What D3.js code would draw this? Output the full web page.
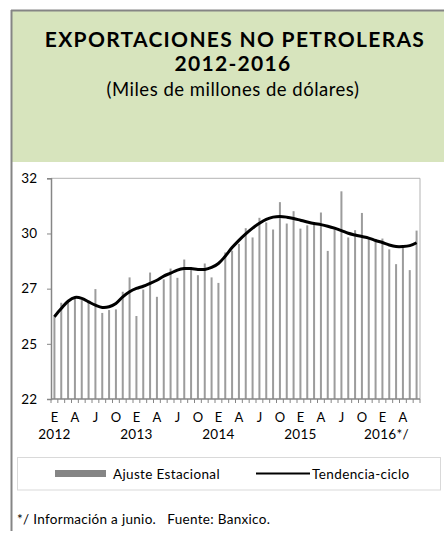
<!DOCTYPE html>
<html>
<head>
<meta charset="utf-8">
<script src="https://cdn.jsdelivr.net/npm/d3@7/dist/d3.min.js"></script>
<style>
  body { margin: 0; background: #fff; }
  svg { display: block; font-family: Lato, "Open Sans", sans-serif; }
</style>
</head>
<body>
<svg id="chart" width="444" height="533"></svg>
<script>
// monthly categories, Jan 2012 - Jun 2016
const categories = [
  "2012-01","2012-02","2012-03","2012-04","2012-05","2012-06","2012-07","2012-08","2012-09","2012-10","2012-11","2012-12",
  "2013-01","2013-02","2013-03","2013-04","2013-05","2013-06","2013-07","2013-08","2013-09","2013-10","2013-11","2013-12",
  "2014-01","2014-02","2014-03","2014-04","2014-05","2014-06","2014-07","2014-08","2014-09","2014-10","2014-11","2014-12",
  "2015-01","2015-02","2015-03","2015-04","2015-05","2015-06","2015-07","2015-08","2015-09","2015-10","2015-11","2015-12",
  "2016-01","2016-02","2016-03","2016-04","2016-05","2016-06"
];
// Ajuste Estacional (bars)
const ajusteEstacional = [
  25.76,26.36,26.48,26.60,26.48,26.45,26.98,25.90,26.03,26.06,26.86,27.51,
  25.76,26.96,27.73,26.63,27.42,27.91,27.49,28.32,27.91,27.61,28.14,27.51,
  27.26,28.64,28.72,29.03,29.74,29.32,30.21,30.00,29.68,30.92,29.95,30.51,
  29.72,29.87,29.92,30.45,28.71,29.71,31.41,29.32,29.65,30.43,29.27,29.14,
  29.27,28.78,28.11,28.84,27.84,29.63
];
// Tendencia-ciclo (line)
const tendenciaCiclo = [
  25.73,26.10,26.43,26.60,26.56,26.40,26.25,26.15,26.18,26.33,26.63,26.86,
  27.01,27.11,27.24,27.38,27.57,27.70,27.84,27.91,27.91,27.87,27.87,27.96,
  28.14,28.47,28.86,29.19,29.48,29.74,29.96,30.14,30.24,30.27,30.24,30.18,
  30.10,30.02,29.95,29.90,29.83,29.74,29.63,29.51,29.43,29.36,29.29,29.18,
  29.09,28.98,28.91,28.91,28.95,29.08
];
const yTicks = [22, 24.5, 27, 29.5, 32];
const yTickLabels = ["22", "25", "27", "30", "32"];
const monthTicks = ["2012-01","2012-04","2012-07","2012-10","2013-01","2013-04","2013-07","2013-10",
  "2014-01","2014-04","2014-07","2014-10","2015-01","2015-04","2015-07","2015-10","2016-01","2016-04"];
const monthLabels = ["E","A","J","O","E","A","J","O","E","A","J","O","E","A","J","O","E","A"];
const yearTicks = ["2012-01","2013-01","2014-01","2015-01","2016-01"];
const yearLabels = ["2012","2013","2014","2015","2016*/"];

const svg = d3.select("#chart");
const plotLeft = 51, plotRight = 420, plotTop = 178.3, plotBottom = 399;

// header + frame
svg.append("rect").attr("x", 12).attr("y", 11).attr("width", 432).attr("height", 151)
  .attr("fill", "#d7e4bd");
svg.append("line").attr("x1", 11).attr("x2", 444).attr("y1", 10.5).attr("y2", 10.5)
  .attr("stroke", "#858585").attr("stroke-width", 2);
svg.append("line").attr("x1", 11.5).attr("x2", 11.5).attr("y1", 10).attr("y2", 531)
  .attr("stroke", "#858585").attr("stroke-width", 2);

// titles
svg.append("text").attr("x", 235).attr("y", 46.5).attr("text-anchor", "middle")
  .attr("font-size", 21).attr("letter-spacing", 1.3).attr("font-weight", "bold").attr("fill", "#000")
  .text("EXPORTACIONES NO PETROLERAS");
svg.append("text").attr("x", 233).attr("y", 71.3).attr("text-anchor", "middle")
  .attr("font-size", 21).attr("letter-spacing", 1.3).attr("font-weight", "bold").attr("fill", "#000")
  .text("2012-2016");
svg.append("text").attr("x", 233).attr("y", 95.5).attr("text-anchor", "middle")
  .attr("font-size", 18.5).attr("letter-spacing", 0.5).attr("fill", "#000")
  .text("(Miles de millones de dólares)");

const xScale = d3.scaleBand().domain(categories).range([plotLeft, plotRight]).padding(0);
const yScale = d3.scaleLinear().domain([22, 32]).range([plotBottom, plotTop]);

// plot area border (top/right)
svg.append("path")
  .attr("d", `M${plotLeft},${plotTop}H${plotRight}V${plotBottom}`)
  .attr("fill", "none").attr("stroke", "#b3b3b3").attr("stroke-width", 1);

// bars
const barW = 2;
svg.selectAll(".bar")
  .data(ajusteEstacional)
  .join("rect")
    .attr("class", "bar")
    .attr("x", (v, i) => xScale(categories[i]) + xScale.bandwidth() / 2 - barW / 2)
    .attr("y", v => yScale(v))
    .attr("width", barW)
    .attr("height", v => plotBottom - yScale(v))
    .attr("fill", "#9c9c9c");

// trend line
const line = d3.line()
  .x((v, i) => xScale(categories[i]) + xScale.bandwidth() / 2)
  .y(v => yScale(v))
  .curve(d3.curveCatmullRom.alpha(0.5));
svg.append("path").datum(tendenciaCiclo)
  .attr("d", line).attr("fill", "none").attr("stroke", "#000").attr("stroke-width", 3)
  .attr("stroke-linejoin", "round");

// y axis
const yAxis = d3.axisLeft(yScale).tickValues(yTicks)
  .tickFormat((d, i) => yTickLabels[i]).tickSize(4).tickPadding(10);
const gy = svg.append("g").attr("transform", `translate(${plotLeft},0)`).call(yAxis);
gy.select(".domain").attr("stroke", "#868686").attr("stroke-width", 1.5);
gy.selectAll(".tick line").attr("stroke", "#868686");
gy.selectAll("text").attr("font-size", 13.5).attr("fill", "#000").attr("font-family", "Lato, sans-serif");

// x axis: boundary ticks between months
const gx = svg.append("g").attr("transform", `translate(0,${plotBottom})`);
gx.append("line").attr("x1", plotLeft).attr("x2", plotRight)
  .attr("stroke", "#868686").attr("stroke-width", 1.5);
gx.selectAll(".mtick")
  .data(categories.concat(["end"]))
  .join("line")
    .attr("class", "mtick")
    .attr("x1", c => c === "end" ? plotRight : xScale(c))
    .attr("x2", c => c === "end" ? plotRight : xScale(c))
    .attr("y1", 0).attr("y2", 4)
    .attr("stroke", "#868686");

const monthAxis = d3.axisBottom(xScale).tickValues(monthTicks)
  .tickFormat((d, i) => monthLabels[i]).tickSize(0).tickPadding(13.5);
const gm = svg.append("g").attr("transform", `translate(0,${plotBottom})`).call(monthAxis);
gm.select(".domain").remove();
gm.selectAll("text").attr("font-size", 13).attr("fill", "#000").attr("font-family", "Lato, sans-serif");

const yearAxis = d3.axisBottom(xScale).tickValues(yearTicks)
  .tickFormat((d, i) => yearLabels[i]).tickSize(0).tickPadding(30.5);
const gyr = svg.append("g").attr("transform", `translate(0,${plotBottom})`).call(yearAxis);
gyr.select(".domain").remove();
gyr.selectAll("text").attr("font-size", 13.5).attr("letter-spacing", 0.3).attr("fill", "#000")
  .attr("font-family", "Lato, sans-serif");
gyr.selectAll(".tick").filter((d, i) => i === 4).select("text").attr("dx", 4);

// legend
svg.append("rect").attr("x", 17.5).attr("y", 457.5).attr("width", 423).attr("height", 32.5)
  .attr("fill", "#fff").attr("stroke", "#d9d9d9");
svg.append("rect").attr("x", 55).attr("y", 470).attr("width", 51).attr("height", 7)
  .attr("fill", "#858585");
svg.append("text").attr("x", 113).attr("y", 478.5).attr("font-size", 13.5).attr("letter-spacing", 0.35)
  .attr("fill", "#000").text("Ajuste Estacional");
svg.append("line").attr("x1", 256).attr("x2", 310).attr("y1", 473.5).attr("y2", 473.5)
  .attr("stroke", "#000").attr("stroke-width", 2);
svg.append("text").attr("x", 312).attr("y", 478.5).attr("font-size", 13.5).attr("letter-spacing", 0.4)
  .attr("fill", "#000").text("Tendencia-ciclo");

// footnote
svg.append("text").attr("x", 17).attr("y", 523.5).attr("font-size", 13.5).attr("letter-spacing", 0.3)
  .attr("fill", "#000").attr("xml:space", "preserve")
  .text("*/ Información a junio.   Fuente: Banxico.");
</script>
</body>
</html>
